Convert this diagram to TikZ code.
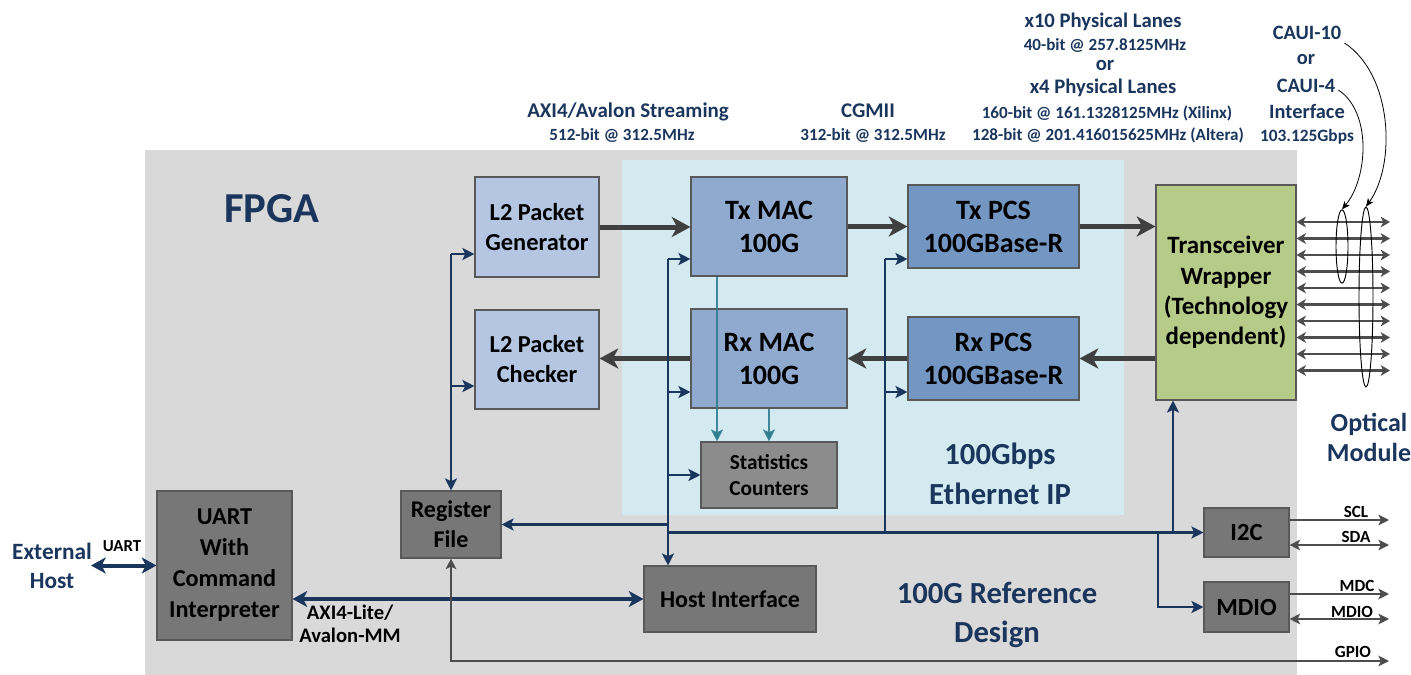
\documentclass[tikz,border=0pt]{standalone}
\usepackage{fontspec}
\setmainfont{Carlito}
\usetikzlibrary{arrows.meta,shapes.geometric}
\definecolor{navy}{HTML}{1B365D}
\definecolor{fpgabg}{HTML}{D9D9D9}
\definecolor{ipbg}{HTML}{D3EAF0}
\definecolor{lblue}{HTML}{B4C6E2}
\definecolor{mblue}{HTML}{8FAACE}
\definecolor{dblue}{HTML}{7496C2}
\definecolor{olive}{HTML}{B6CB88}
\definecolor{mgray}{HTML}{8C8C8C}
\definecolor{dgray}{HTML}{777777}
\definecolor{bord}{HTML}{595959}
\definecolor{arrgray}{HTML}{404040}
\definecolor{sgray}{HTML}{4D4D4D}
\definecolor{tealc}{HTML}{2F7E90}
\tikzset{
  box/.style={draw=bord, line width=0.8pt, align=center, inner sep=0pt, text=black},
  fs/.style 2 args={font=\bfseries\fontsize{#1}{#2}\selectfont},
  lbl/.style={text=navy, inner sep=0pt, anchor=base},
  bigarr/.style={line width=3.75pt, draw=arrgray, -{Stealth[length=14pt,width=15pt,inset=4pt]}},
  ctlline/.style={line width=1.8pt, draw=navy},
  ctl/.style={ctlline, -{Stealth[length=9pt,width=9pt,inset=2pt]}},
  hostarr/.style={line width=3pt, draw=navy, {Stealth[length=11pt,width=12pt,inset=3pt]}-{Stealth[length=11pt,width=12pt,inset=3pt]}},
  thin/.style={line width=1.3pt, draw=sgray, -{Stealth[length=8pt,width=8pt,inset=2pt]}},
  thinb/.style={line width=1.3pt, draw=sgray, {Stealth[length=8pt,width=8pt,inset=2pt]}-{Stealth[length=8pt,width=8pt,inset=2pt]}},
  lane/.style={line width=2pt, draw=sgray, {Stealth[length=7pt,width=8pt,inset=2pt]}-{Stealth[length=7pt,width=8pt,inset=2pt]}},
  tealarr/.style={line width=1.5pt, draw=tealc, draw opacity=0.9, -{Stealth[length=9pt,width=9pt,inset=2pt]}},
  curv/.style={line width=0.6pt, draw=black, -{Stealth[length=6pt,width=5pt,inset=1.5pt]}},
  ell/.style={ellipse, draw=black, line width=0.7pt, inner sep=0pt}
}
\begin{document}
\begin{tikzpicture}[x=0.75pt,y=-0.75pt]
\path[use as bounding box] (0,0) rectangle (1411,675);
% backgrounds
\fill[fpgabg] (145,150) rectangle (1297,675);
\fill[ipbg] (622,160) rectangle (1124,515);

% region labels
\node[text=navy, fs={32}{36}] (fpga) at (272,209) {FPGA};
\node[text=navy, fs={23}{30}, align=center] (ethip) at (1000,474) {100Gbps\\Ethernet IP};
\node[text=navy, fs={23}{29}, align=center] (refd) at (997,615) {100G Reference\\Design};
\node[text=navy, fs={17.5}{22}, align=center] (ext) at (52,566) {External\\Host};
\node[text=navy, fs={19.5}{22.5}, align=center] (optm) at (1369,437) {Optical\\Module};

% top labels
\node[lbl, fs={15.7}{17}] (axis) at (628,117) {AXI4/Avalon Streaming};
\node[lbl, fs={12.8}{14}] (axisr) at (622,140) {512-bit @ 312.5MHz};
\node[lbl, fs={15.7}{17}] (cgmii) at (868,117) {CGMII};
\node[lbl, fs={12.8}{14}] (cgmiir) at (873,140) {312-bit @ 312.5MHz};
\node[lbl, fs={15.5}{17}] (x10) at (1103,27) {x10 Physical Lanes};
\node[lbl, fs={12.8}{14}] (x10r) at (1105,50) {40-bit @ 257.8125MHz};
\node[lbl, fs={15.5}{17}] (or1) at (1105,70) {or};
\node[lbl, fs={15.5}{17}] (x4) at (1103,93) {x4 Physical Lanes};
\node[lbl, fs={12.8}{14}] (x4a) at (1107,118) {160-bit @ 161.1328125MHz (Xilinx)};
\node[lbl, fs={12.8}{14}] (x4b) at (1108,140) {128-bit @ 201.416015625MHz (Altera)};
\node[lbl, fs={15.3}{17}] (caui10) at (1307,39) {CAUI-10};
\node[lbl, fs={15.3}{17}] (or2) at (1306,64) {or};
\node[lbl, fs={15.3}{17}] (caui4) at (1306,92) {CAUI-4};
\node[lbl, fs={15.3}{17}] (intf) at (1307,118) {Interface};
\node[lbl, fs={13}{14}] (gbps) at (1307,141) {103.125Gbps};

% boxes
\node[box, fill=lblue, minimum width=93pt, minimum height=75pt, fs={18.3}{22.5}] (gen) at (537,227) {L2 Packet\\Generator};
\node[box, fill=lblue, minimum width=93pt, minimum height=74.25pt, fs={18.3}{22.5}] (chk) at (537,359.5) {L2 Packet\\Checker};
\node[box, fill=mblue, minimum width=117pt, minimum height=74.25pt, fs={21}{24.75}] (txmac) at (769,226.5) {Tx MAC\\100G};
\node[box, fill=mblue, minimum width=117pt, minimum height=74.25pt, fs={21}{24.75}] (rxmac) at (769,358.5) {Rx MAC\\100G};
\node[box, fill=dblue, minimum width=128.25pt, minimum height=62.25pt, fs={21}{24.75}] (txpcs) at (993.5,226.5) {Tx PCS\\100GBase-R};
\node[box, fill=dblue, minimum width=128.25pt, minimum height=62.25pt, fs={21}{24.75}] (rxpcs) at (993.5,358.5) {Rx PCS\\100GBase-R};
\node[box, fill=olive, minimum width=105pt, minimum height=161.25pt, fs={18.7}{22.8}] (xcvr) at (1226,292.5) {Transceiver\\Wrapper\\(Technology\\dependent)};
\node[box, fill=mgray, minimum width=102pt, minimum height=49.5pt, fs={16}{20}] (stats) at (769,475) {Statistics\\Counters};
\node[box, fill=dgray, minimum width=75pt, minimum height=50.25pt, fs={18}{22.5}] (regf) at (451,524.5) {Register\\File};
\node[box, fill=dgray, minimum width=129pt, minimum height=49.5pt, fs={18}{22}] (host) at (730,599) {Host Interface};
\node[box, fill=dgray, minimum width=101.25pt, minimum height=111.75pt, fs={18.2}{23.25}] (uart) at (224.5,565.5) {UART\\With\\Command\\Interpreter};
\node[box, fill=dgray, minimum width=63.75pt, minimum height=36.75pt, fs={18.5}{22}] (i2c) at (1246.5,532.5) {I2C};
\node[box, fill=dgray, minimum width=63.75pt, minimum height=37.5pt, fs={18.5}{22}] (mdio) at (1246.5,607) {MDIO};

% data path
\draw[bigarr] (gen.east) -- (txmac.west |- gen.east);
\draw[bigarr] (txmac.east) -- (txpcs.west |- txmac.east);
\draw[bigarr] (txpcs.east) -- (xcvr.west |- txpcs.east);
\draw[bigarr] (xcvr.west |- rxpcs.east) -- (rxpcs.east);
\draw[bigarr] (rxpcs.west) -- (rxmac.east |- rxpcs.west);
\draw[bigarr] (rxmac.west) -- (chk.east |- rxmac.west);

% statistics (teal)
\coordinate (t1) at (717,0);
\coordinate (t2) at (769,0);
\draw[tealarr] (t1 |- txmac.south) -- (t1 |- stats.north);
\draw[tealarr] (t2 |- rxmac.south) -- (t2 |- stats.north);

% control bus 1
\coordinate (v1a) at (451,254);
\coordinate (v1b) at (451,386);
\draw[ctl] (v1a) -- (regf.north);
\draw[ctl] (v1a) -- (gen.west |- v1a);
\draw[ctl] (v1b) -- (chk.west |- v1b);

% control bus 2
\coordinate (v2a) at (668,259);
\coordinate (v2b) at (668,392);
\coordinate (v2c) at (668,475);
\coordinate (v2d) at (668,524.5);
\coordinate (v2e) at (668,532.5);
\draw[ctl] (v2a) -- (v2a |- host.north);
\draw[ctl] (v2a) -- (txmac.west |- v2a);
\draw[ctl] (v2b) -- (rxmac.west |- v2b);
\draw[ctl] (v2c) -- (stats.west);
\draw[ctl] (v2d) -- (regf.east);
\draw[ctl] (v2e) -- (i2c.west);

% control bus 3
\coordinate (v3a) at (885,259);
\coordinate (v3b) at (885,392);
\coordinate (v3c) at (885,532.5);
\draw[ctlline] (v3c) -- (v3a);
\draw[ctl] (v3a) -- (txpcs.west |- v3a);
\draw[ctl] (v3b) -- (rxpcs.west |- v3b);
\coordinate (v4) at (1173,532.5);
\draw[ctl] (v4) -- (v4 |- xcvr.south);
\coordinate (v5) at (1158,532.5);
\draw[ctl] (v5) |- (mdio.west);

% host links
\draw[hostarr] (uart.east |- host.west) -- (host.west);
\coordinate (exth) at (91,565.5);
\draw[hostarr] (exth) -- (uart.west);
\node[lbl, fs={12.6}{14}, text=black] (uartl) at (122,551) {UART};
\node[text=black, fs={15.5}{17.5}, align=center] (axil) at (350,624) {AXI4-Lite/\\Avalon-MM};

% GPIO
\coordinate (gpioe) at (1389,661);
\draw[thinb] (regf.south) |- (gpioe);
\node[lbl, fs={12.8}{14}, text=black] (gpiol) at (1353,657) {GPIO};

% I2C and MDIO outputs
\coordinate (sclp) at (1389,520);
\coordinate (sdap) at (1389,545);
\coordinate (mdcp) at (1389,594);
\coordinate (mdiop) at (1389,619);
\draw[thin] (i2c.east |- sclp) -- (sclp);
\draw[thinb] (i2c.east |- sdap) -- (sdap);
\draw[thin] (mdio.east |- mdcp) -- (mdcp);
\draw[thinb] (mdio.east |- mdiop) -- (mdiop);
\node[lbl, fs={12.8}{14}, text=black] (scll) at (1356,517) {SCL};
\node[lbl, fs={12.8}{14}, text=black] (sdal) at (1356,542) {SDA};
\node[lbl, fs={12.8}{14}, text=black] (mdcl) at (1357,591) {MDC};
\node[lbl, fs={12.8}{14}, text=black] (mdiol) at (1352,617) {MDIO};

% optical lanes
\foreach \i in {0,...,9}{
  \coordinate (ln\i) at (1390,222+16.5*\i);
  \draw[lane] (xcvr.east |- ln\i) -- (ln\i);
}
\node[ell, minimum width=9pt, minimum height=55pt] (ell4) at (1342,246.5) {};
\node[ell, minimum width=10.5pt, minimum height=135pt] (ell10) at (1366,297) {};
\draw[curv] ([shift={(3,4)}]caui10.base east) .. controls (1393,75) and (1396,165) .. (ell10.north);
\draw[curv] ([shift={(3,-2)}]caui4.base east) .. controls (1372,112) and (1368,178) .. (ell4.north);
\end{tikzpicture}
\end{document}
